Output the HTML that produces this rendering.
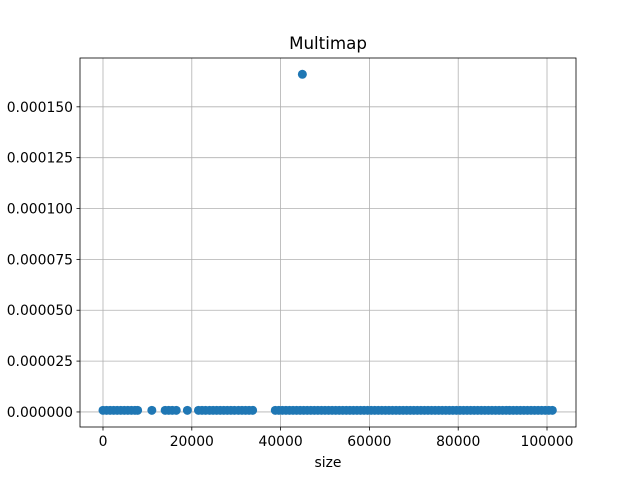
<!DOCTYPE html>
<html><head><meta charset="utf-8"><style>
body{margin:0;background:#fff;font-family:"Liberation Sans","DejaVu Sans",sans-serif}
svg text{font-family:"DejaVu Sans","Liberation Sans",sans-serif;font-size:13.9px;fill:#000}
</style></head><body>
<svg id="chart" width="640" height="480" xmlns="http://www.w3.org/2000/svg"></svg>
<script>
const xTicks=[0,20000,40000,60000,80000,100000];
const yTicks=[0,0.000025,0.00005,0.000075,0.0001,0.000125,0.00015];
const yTickLabels=["0.000000","0.000025","0.000050","0.000075","0.000100","0.000125","0.000150"];
const sizes=[0,800,1600,2400,3200,4000,4800,5600,6400,7200,7800,11000,14000,14800,15600,16500,19000,21500,22300,23100,24000,24800,25600,26400,27200,28000,28800,29600,30500,31300,32100,32900,33700,38800,39600,40400,41200,42000,42800,43600,44400,45200,46000,46800,47600,48400,49200,50000,50800,51600,52400,53200,54000,54800,55600,56400,57200,58000,58800,59600,60400,61200,62000,62800,63600,64400,65200,66000,66800,67600,68400,69200,70000,70800,71600,72400,73200,74000,74800,75600,76400,77200,78000,78800,79600,80400,81200,82000,82800,83600,84400,85200,86000,86800,87600,88400,89200,90000,90800,91600,92400,93200,94000,94800,95600,96400,97200,98000,98800,99600,100400,101200,44900];
const times=[];
for(let i=0;i<sizes.length;i++){times.push(i===sizes.length-1?0.000166:0.0000008);}
const L=80,R=576,T=58,B=427,xMin=-5180,xMax=106530,yMin=-0.0000074,yMax=0.000174;
const sx=v=>L+(v-xMin)/(xMax-xMin)*(R-L);
const sy=v=>B-(v-yMin)/(yMax-yMin)*(B-T);
const svg=document.getElementById('chart');const NS='http://www.w3.org/2000/svg';
function mk(t,a){const e=document.createElementNS(NS,t);for(const k in a)e.setAttribute(k,a[k]);svg.appendChild(e);return e;}
xTicks.forEach(v=>{const x=sx(v);
const g=mk('line',{x1:x,x2:x,y1:T,y2:B,stroke:'#b0b0b0','stroke-width':0.8});


mk('line',{x1:x,x2:x,y1:B,y2:B+3.5,stroke:'#000','stroke-width':0.8});
const t=mk('text',{x:x,y:B+19,'text-anchor':'middle'});t.textContent=v;

});
yTicks.forEach((v,i)=>{const y=sy(v);
const g=mk('line',{x1:L,x2:R,y1:y,y2:y,stroke:'#b0b0b0','stroke-width':0.8});


mk('line',{x1:L-3.5,x2:L,y1:y,y2:y,stroke:'#000','stroke-width':0.8});
const t=mk('text',{x:L-7,y:y+5,'text-anchor':'end'});t.textContent=yTickLabels[i];

});
sizes.forEach((s,i)=>{const c=mk('circle',{cx:sx(s),cy:sy(times[i]),r:4.5,fill:'#1f77b4'});

});
const fr=mk('rect',{x:L,y:T,width:R-L,height:B-T,fill:'none',stroke:'#000','stroke-width':0.8});


const ti=mk('text',{x:(L+R)/2,y:49,'text-anchor':'middle'});ti.textContent='Multimap';ti.style.fontSize='16.7px';


const xl=mk('text',{x:(L+R)/2,y:467,'text-anchor':'middle'});xl.textContent='size';


</script>
</body></html>
